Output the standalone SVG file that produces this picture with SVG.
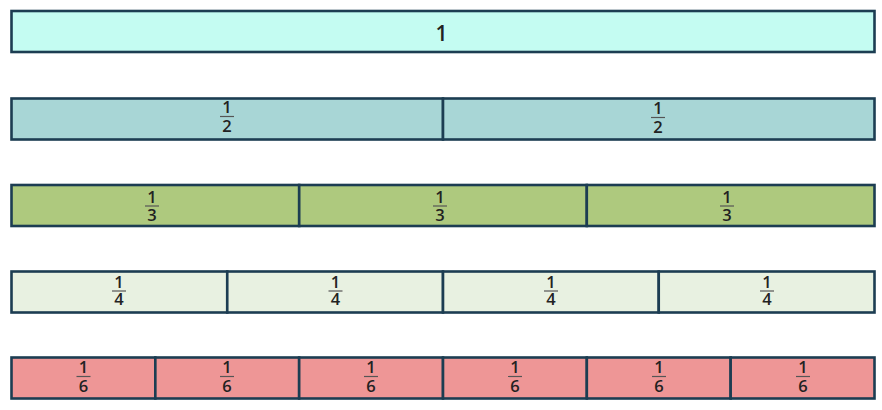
<svg xmlns="http://www.w3.org/2000/svg" width="882" height="410" viewBox="0 0 882 410">
<style>
.seg{stroke:#1c3d52;stroke-width:2.6}
.r1{fill:#c4fcf2}.r2{fill:#a8d6d6}.r3{fill:#aec97e}.r4{fill:#e8f1e1}.r5{fill:#ee9696}
text{font-family:"Open Sans","Noto Sans","Liberation Sans",sans-serif;fill:#222;text-anchor:middle}
.f{font-size:16.5px;font-weight:600}
.b{stroke:#555;stroke-width:1.2}
</style>
<rect width="882" height="410" fill="#ffffff"/>
<g id="whole">
<rect class="seg r1" x="11.5" y="11" width="863" height="41"/>
<text x="441.5" y="41" font-size="21" font-weight="600">1</text>
</g>
<g id="halves">
<rect class="seg r2" x="11.5" y="98.5" width="431.5" height="41"/>
<rect class="seg r2" x="443" y="98.5" width="431.5" height="41"/>
<text class="f" x="227" y="113">1</text><line class="b" x1="220" y1="116.5" x2="234" y2="116.5"/><text class="f" x="227" y="132">2</text>
<text class="f" x="658" y="114">1</text><line class="b" x1="651" y1="117.5" x2="665" y2="117.5"/><text class="f" x="658" y="133">2</text>
</g>
<g id="thirds">
<rect class="seg r3" x="11.5" y="185" width="287.7" height="41"/>
<rect class="seg r3" x="299.2" y="185" width="287.6" height="41"/>
<rect class="seg r3" x="586.8" y="185" width="287.7" height="41"/>
<text class="f" x="152" y="203">1</text><line class="b" x1="145" y1="206" x2="159" y2="206"/><text class="f" x="152" y="221">3</text>
<text class="f" x="440" y="203">1</text><line class="b" x1="433" y1="206" x2="447" y2="206"/><text class="f" x="440" y="221">3</text>
<text class="f" x="727" y="203">1</text><line class="b" x1="720" y1="206" x2="734" y2="206"/><text class="f" x="727" y="221">3</text>
</g>
<g id="quarters">
<rect class="seg r4" x="11.5" y="271.5" width="215.75" height="41"/>
<rect class="seg r4" x="227.25" y="271.5" width="215.75" height="41"/>
<rect class="seg r4" x="443" y="271.5" width="215.75" height="41"/>
<rect class="seg r4" x="658.75" y="271.5" width="215.75" height="41"/>
<text class="f" x="119" y="288">1</text><line class="b" x1="112" y1="291" x2="126" y2="291"/><text class="f" x="119" y="305">4</text>
<text class="f" x="335.5" y="288">1</text><line class="b" x1="328.5" y1="291" x2="342.5" y2="291"/><text class="f" x="335.5" y="305">4</text>
<text class="f" x="551" y="288">1</text><line class="b" x1="544" y1="291" x2="558" y2="291"/><text class="f" x="551" y="305">4</text>
<text class="f" x="767" y="288">1</text><line class="b" x1="760" y1="291" x2="774" y2="291"/><text class="f" x="767" y="305">4</text>
</g>
<g id="sixths">
<rect class="seg r5" x="11.5" y="357.5" width="143.83" height="41"/>
<rect class="seg r5" x="155.33" y="357.5" width="143.83" height="41"/>
<rect class="seg r5" x="299.17" y="357.5" width="143.83" height="41"/>
<rect class="seg r5" x="443" y="357.5" width="143.83" height="41"/>
<rect class="seg r5" x="586.83" y="357.5" width="143.83" height="41"/>
<rect class="seg r5" x="730.67" y="357.5" width="143.83" height="41"/>
<text class="f" x="83.5" y="373">1</text><line class="b" x1="76.5" y1="376.5" x2="90.5" y2="376.5"/><text class="f" x="83.5" y="392">6</text>
<text class="f" x="227" y="373">1</text><line class="b" x1="220" y1="376.5" x2="234" y2="376.5"/><text class="f" x="227" y="392">6</text>
<text class="f" x="371" y="373">1</text><line class="b" x1="364" y1="376.5" x2="378" y2="376.5"/><text class="f" x="371" y="392">6</text>
<text class="f" x="515" y="373">1</text><line class="b" x1="508" y1="376.5" x2="522" y2="376.5"/><text class="f" x="515" y="392">6</text>
<text class="f" x="659" y="373">1</text><line class="b" x1="652" y1="376.5" x2="666" y2="376.5"/><text class="f" x="659" y="392">6</text>
<text class="f" x="803" y="373">1</text><line class="b" x1="796" y1="376.5" x2="810" y2="376.5"/><text class="f" x="803" y="392">6</text>
</g>
</svg>
